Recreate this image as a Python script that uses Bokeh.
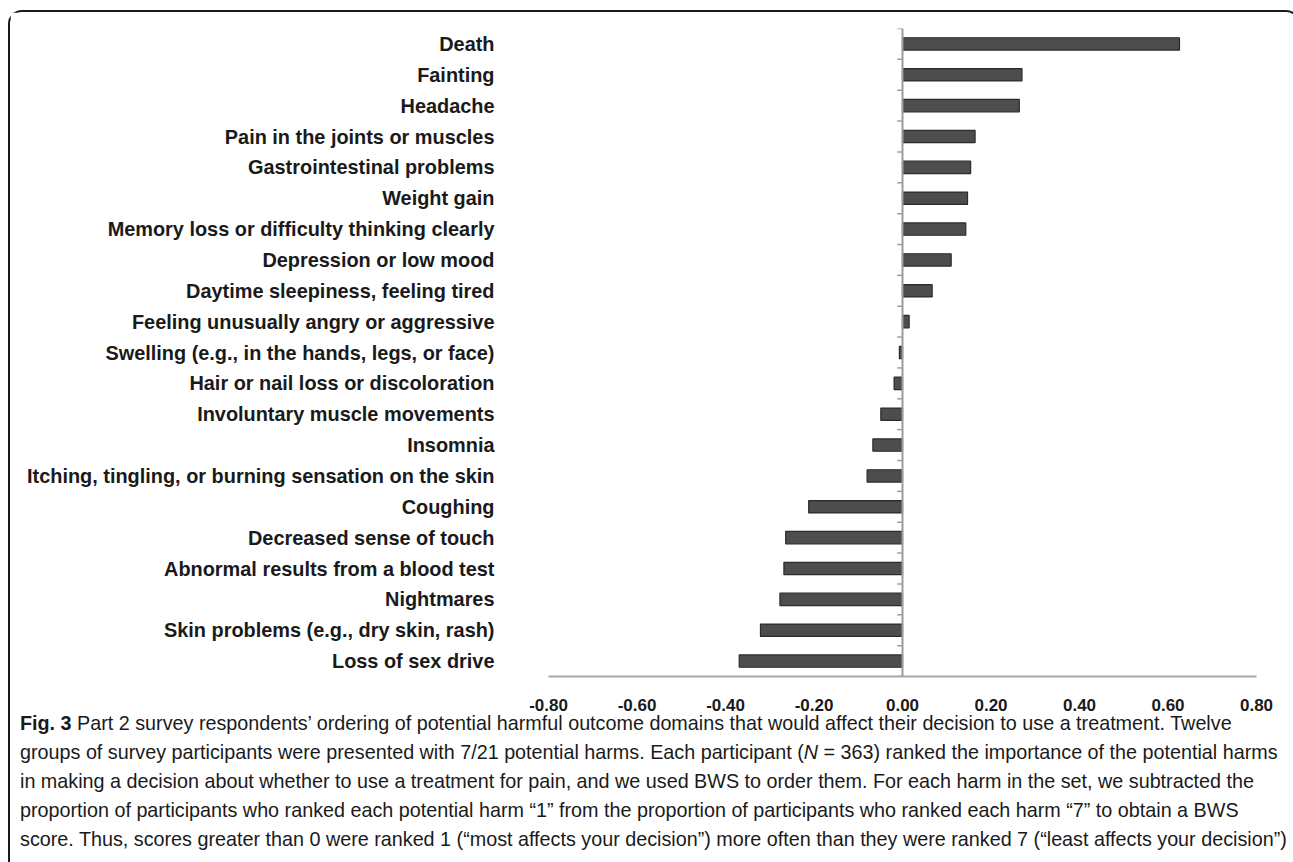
from bokeh.plotting import figure
from bokeh.models import Range1d, FixedTicker, NumeralTickFormatter, Span, Div
from bokeh.layouts import column
from bokeh.embed import file_html
from bokeh.resources import INLINE

# ---------------- data ----------------
harms = [
    "Death",
    "Fainting",
    "Headache",
    "Pain in the joints or muscles",
    "Gastrointestinal problems",
    "Weight gain",
    "Memory loss or difficulty thinking clearly",
    "Depression or low mood",
    "Daytime sleepiness, feeling tired",
    "Feeling unusually angry or aggressive",
    "Swelling (e.g., in the hands, legs, or face)",
    "Hair or nail loss or discoloration",
    "Involuntary muscle movements",
    "Insomnia",
    "Itching, tingling, or burning sensation on the skin",
    "Coughing",
    "Decreased sense of touch",
    "Abnormal results from a blood test",
    "Nightmares",
    "Skin problems (e.g., dry skin, rash)",
    "Loss of sex drive",
]
bws_scores = [0.626, 0.270, 0.264, 0.164, 0.154, 0.147, 0.143, 0.110, 0.067, 0.015,
              -0.007, -0.019, -0.049, -0.067, -0.080, -0.212, -0.264, -0.268, -0.277,
              -0.321, -0.369]
x_ticks = [-0.8, -0.6, -0.4, -0.2, 0.0, 0.2, 0.4, 0.6, 0.8]

caption_html_lines = [
    "<b>Fig. 3</b> Part 2 survey respondents\u2019 ordering of potential harmful outcome domains that would affect their decision to use a treatment. Twelve",
    "groups of survey participants were presented with 7/21 potential harms. Each participant (<i>N</i>&nbsp;=&nbsp;363) ranked the importance of the potential harms",
    "in making a decision about whether to use a treatment for pain, and we used BWS to order them. For each harm in the set, we subtracted the",
    "proportion of participants who ranked each potential harm \u201c1\u201d from the proportion of participants who ranked each harm \u201c7\u201d to obtain a BWS",
    "score. Thus, scores greater than 0 were ranked 1 (\u201cmost affects your decision\u201d) more often than they were ranked 7 (\u201cleast affects your decision\u201d)",
]

n = len(harms)
ypos = list(range(n))

# figure canvas starts at page (10, 12) inside the rounded frame
W, H = 1278, 712
FL, FR, FT, FB = 538, 1246, 16, 664   # frame edges in canvas pixels
p = figure(width=W, height=H,
           x_range=Range1d(-0.8, 0.8), y_range=Range1d(n - 0.5, -0.5),
           output_backend="svg", toolbar_location=None,
           min_border_left=FL, min_border_right=W - FR, min_border_top=FT, min_border_bottom=H - FB,
           background_fill_color="white", border_fill_color="white", outline_line_color=None)
p.grid.visible = False

# x axis
xa = p.xaxis[0]
xa.ticker = FixedTicker(ticks=x_ticks)
xa.formatter = NumeralTickFormatter(format="0.00")
xa.axis_line_color = "#a8a8a8"
xa.axis_line_width = 2
xa.major_tick_in = 0
xa.major_tick_out = 0
xa.minor_tick_in = 0
xa.minor_tick_out = 0
xa.major_label_standoff = 22
xa.major_label_text_font = "Liberation Sans"
xa.major_label_text_font_style = "bold"
xa.major_label_text_font_size = "17px"
xa.major_label_text_color = "#1a1a1a"

# y axis (categories)
ya = p.yaxis[0]
ya.ticker = FixedTicker(ticks=ypos)
ya.major_label_overrides = {i: harms[i] for i in ypos}
ya.axis_line_color = None
ya.major_tick_in = 0
ya.major_tick_out = 0
ya.minor_tick_in = 0
ya.minor_tick_out = 0
ya.major_label_standoff = 54
ya.major_label_text_font = "Liberation Sans"
ya.major_label_text_font_style = "bold"
ya.major_label_text_font_size = "19.9px"
ya.major_label_text_color = "#1a1a1a"

# bars
p.hbar(y=ypos, left=0, right=bws_scores, height=0.4,
       fill_color="#4d4d4d", line_color="#2b2b2b", line_width=1.2)

# zero (category) axis line with boundary ticks
p.add_layout(Span(location=0, dimension="height", line_color="#9b9b9b", line_width=2))
bounds = [i - 0.5 for i in range(n + 1)]
tick_len = 0.012
p.segment(x0=[0] * len(bounds), x1=[-tick_len] * len(bounds), y0=bounds, y1=bounds,
          line_color="#a0a0a0", line_width=1.5)

# caption
caption = Div(
    text=("<div style=\"font-family:'Liberation Sans',Arial,sans-serif; font-size:19.75px; "
          "line-height:29px; color:#1a1a1a; white-space:nowrap; padding-left:5px; margin:0;\">"
          + "<br>".join(caption_html_lines) + "</div>"),
    width=W, height=151,
    styles={"margin-top": "-15px"},
)

layout = column(p, caption,
                styles={"border": "2px solid #1a1a1a", "border-bottom": "none",
                        "border-radius": "14px 14px 0 0",
                        "margin-left": "8px", "margin-top": "10px"})

open("out.html", "w").write(file_html(layout, INLINE))
